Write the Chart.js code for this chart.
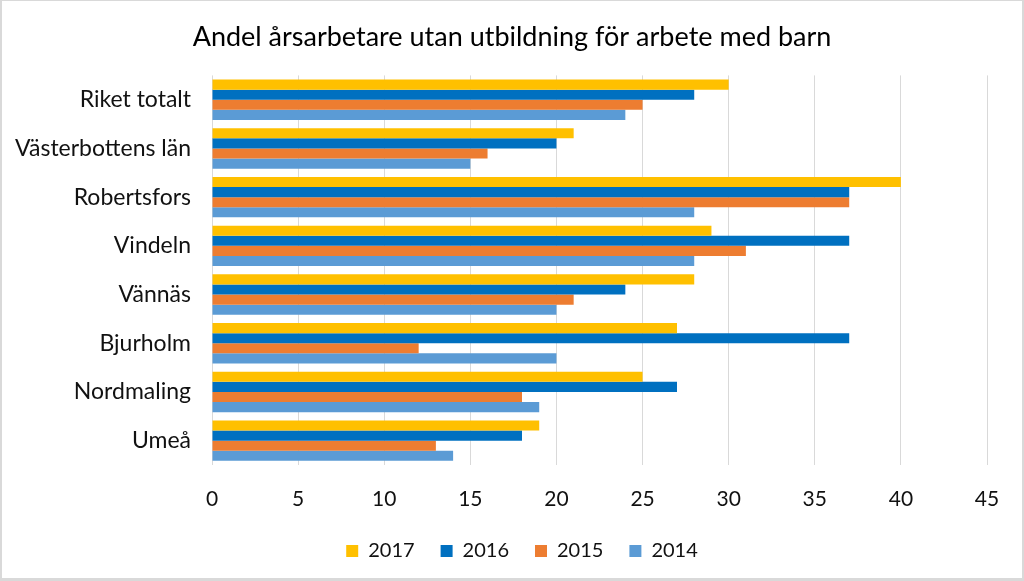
<!DOCTYPE html>
<html>
<head>
<meta charset="utf-8">
<script src="https://cdn.jsdelivr.net/npm/chart.js@4/dist/chart.umd.min.js"></script>
<style>
  html, body { margin: 0; padding: 0; background: #fff; }
  #wrap { width: 1024px; height: 581px; box-sizing: border-box; border: 2px solid #d9d9d9; border-bottom-width: 3px; border-top-width: 1px; background: #fff; }
  #wrap canvas { display: block; }
</style>
</head>
<body>
<div id="wrap"><canvas id="c" width="1020" height="577"></canvas></div>
<script>
const categories = ["Riket totalt", "Västerbottens län", "Robertsfors", "Vindeln", "Vännäs", "Bjurholm", "Nordmaling", "Umeå"];
const seriesNames = ["2017", "2016", "2015", "2014"];
const values2017 = [30, 21, 40, 29, 28, 27, 25, 19];
const values2016 = [28, 20, 37, 37, 24, 37, 27, 18];
const values2015 = [25, 16, 37, 31, 21, 12, 18, 13];
const values2014 = [24, 15, 28, 28, 20, 20, 19, 14];
const xTicks = [0, 5, 10, 15, 20, 25, 30, 35, 40, 45];
const titleText = "Andel årsarbetare utan utbildning för arbete med barn";

const colors = ["#FFC000", "#0070C0", "#ED7D31", "#5B9BD5"];
const allValues = [values2017, values2016, values2015, values2014];
const FONT = "Lato, 'Open Sans', sans-serif";

const centeredTitle = {
  id: "centeredTitle",
  afterDraw(chart) {
    const t = chart.titleBlock;
    const ctx = chart.ctx;
    ctx.save();
    ctx.font = "normal 27px " + FONT;
    ctx.fillStyle = "#000";
    ctx.textAlign = "center";
    ctx.textBaseline = "middle";
    ctx.fillText(titleText, chart.width / 2, (t.top + t.bottom) / 2 - 1);
    ctx.restore();
  }
};

const legendLayout = {
  id: "legendLayout",
  afterInit(chart) {
    const lg = chart.legend;
    const orig = lg.fit.bind(lg);
    lg.fit = function () { orig(); this.height = 50; };
  },
  afterLayout(chart) {
    const lg = chart.legend;
    lg.left = 20;
    lg.right = chart.width;
    lg.width = lg.right - lg.left;
    lg.top -= 3;
    lg.bottom -= 3;
  }
};

new Chart(document.getElementById("c"), {
  type: "bar",
  data: {
    labels: categories,
    datasets: seriesNames.map((n, i) => ({
      label: n,
      data: allValues[i],
      backgroundColor: colors[i],
      borderWidth: 0,
      categoryPercentage: 0.83,
      barPercentage: 1.0
    }))
  },
  plugins: [centeredTitle, legendLayout],
  options: {
    indexAxis: "y",
    responsive: false,
    animation: false,
    layout: { padding: { left: 0, right: 35, top: 0, bottom: 10 } },
    plugins: {
      title: {
        display: true,
        text: titleText,
        color: "rgba(0,0,0,0)",
        font: { family: FONT, size: 27, weight: "normal" },
        padding: { top: 21, bottom: 21 }
      },
      legend: {
        position: "bottom",
        labels: {
          color: "#111",
          font: { family: FONT, size: 20 },
          boxWidth: 12,
          boxHeight: 12,
          padding: 26
        }
      },
      tooltip: { enabled: false }
    },
    scales: {
      x: {
        min: 0,
        max: 45,
        afterBuildTicks: (s) => { s.ticks = xTicks.map(v => ({ value: v })); },
        afterFit: (s) => { s.height = 53; },
        grid: { color: "#d9d9d9", lineWidth: 1, drawTicks: false },
        border: { display: false },
        ticks: { color: "#111", font: { family: FONT, size: 21 }, padding: 22 }
      },
      y: {
        grid: { display: false },
        border: { display: false },
        afterFit: (s) => { s.width = 210; },
        ticks: { color: "#111", font: { family: FONT, size: 23 }, padding: 13 }
      }
    }
  }
});
</script>
</body>
</html>
